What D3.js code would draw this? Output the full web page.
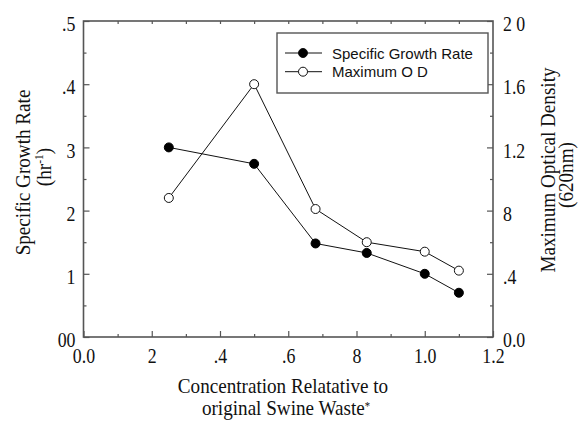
<!DOCTYPE html>
<html><head><meta charset="utf-8">
<script src="https://cdn.jsdelivr.net/npm/d3@7"></script>
<style>body{margin:0;background:#fff}svg{display:block}.serif{font-family:'Liberation Serif','Times New Roman',serif}</style>
</head><body>
<script>
const concentration = [0.25, 0.5, 0.68, 0.83, 1.0, 1.1];
const growthRate    = [0.300, 0.274, 0.148, 0.133, 0.100, 0.070];
const maxOD         = [0.88, 1.60, 0.81, 0.60, 0.54, 0.42];
const xTickValues = [0, 0.2, 0.4, 0.6, 0.8, 1.0, 1.2];
const xTickLabels = ["0.0", "2", ".4", ".6", "8", "1.0", "1.2"];
const yLTickValues = [0, 0.1, 0.2, 0.3, 0.4, 0.5];
const yLTickLabels = ["00", "1", "2", "3", ".4", ".5"];
const yRTickValues = [0, 0.4, 0.8, 1.2, 1.6, 2.0];
const yRTickLabels = ["0.0", ".4", "8", "1.2", "1.6", "2 0"];
const legendLabels = ["Specific Growth Rate", "Maximum O D"];

const W = 586, H = 421;
const L = 83.5, R = 493, T = 21, B = 337;
const SX = 0.85;
const svg = d3.select("body").append("svg").attr("width", W).attr("height", H);
const x = d3.scaleLinear().domain([0, 1.2]).range([L, R]);
const yL = d3.scaleLinear().domain([0, 0.5]).range([B, T]);
const yR = d3.scaleLinear().domain([0, 2.0]).range([B, T]);
const axisColor = "#555";
const serif = "'Liberation Serif','Times New Roman',serif";

function styleAxis(dyShift){
  return g => {
    g.attr("font-family", null).attr("font-size", null).attr("class", "serif");
    g.select(".domain").remove();
    g.selectAll("line").attr("stroke", axisColor).attr("stroke-width", 1.2);
    g.selectAll("text").each(function(){
      const t = d3.select(this);
      const tx = +t.attr("x") || 0, ty = +t.attr("y") || 0;
      t.attr("x", 0).attr("y", 0)
       .attr("transform", `translate(${tx},${ty + (dyShift || 0)}) scale(${SX},1)`)
       .style("font-family", serif).style("font-size", "21px").attr("fill", "#111");
    });
  };
}
const fmt = (vals, labs) => d => { const i = vals.findIndex(v => Math.abs(v - d) < 1e-9); return i >= 0 ? labs[i] : ""; };

// minor + major ticks on all four sides (pointing inward)
svg.append("g").attr("transform", `translate(0,${B})`)
  .call(d3.axisBottom(x).tickValues(d3.range(0.1, 1.2, 0.2)).tickSize(-3).tickFormat(""))
  .call(styleAxis());
svg.append("g").attr("transform", `translate(0,${B})`)
  .call(d3.axisBottom(x).tickValues(xTickValues).tickSize(-6).tickPadding(11).tickFormat(fmt(xTickValues, xTickLabels)))
  .call(styleAxis());
svg.append("g").attr("transform", `translate(0,${T})`)
  .call(d3.axisTop(x).tickValues(d3.range(0.1, 1.2, 0.1)).tickSize(-3).tickFormat(""))
  .call(styleAxis());
svg.append("g").attr("transform", `translate(${L},0)`)
  .call(d3.axisLeft(yL).tickValues(d3.range(0.05, 0.5, 0.1)).tickSize(-3).tickFormat(""))
  .call(styleAxis());
svg.append("g").attr("transform", `translate(${L},0)`)
  .call(d3.axisLeft(yL).tickValues(yLTickValues).tickSize(-6).tickPadding(8).tickFormat(fmt(yLTickValues, yLTickLabels)))
  .call(styleAxis(3));
svg.append("g").attr("transform", `translate(${R},0)`)
  .call(d3.axisRight(yR).tickValues(d3.range(0.2, 2.0, 0.4)).tickSize(-3).tickFormat(""))
  .call(styleAxis());
svg.append("g").attr("transform", `translate(${R},0)`)
  .call(d3.axisRight(yR).tickValues(yRTickValues).tickSize(-6).tickPadding(10).tickFormat(fmt(yRTickValues, yRTickLabels)))
  .call(styleAxis(3));

// frame
svg.append("rect").attr("x", L).attr("y", T).attr("width", R - L).attr("height", B - T)
  .attr("fill", "none").attr("stroke", axisColor).attr("stroke-width", 1.6);

// series
const pts1 = concentration.map((c, i) => [x(c), yL(growthRate[i])]);
const pts2 = concentration.map((c, i) => [x(c), yR(maxOD[i])]);
const line = d3.line();
svg.append("path").attr("d", line(pts2)).attr("fill", "none").attr("stroke", "#111").attr("stroke-width", 1);
svg.append("path").attr("d", line(pts1)).attr("fill", "none").attr("stroke", "#111").attr("stroke-width", 1);
svg.selectAll("circle.od").data(pts2).enter().append("circle").attr("class", "od")
  .attr("cx", d => d[0]).attr("cy", d => d[1]).attr("r", 4.5)
  .attr("fill", "#fff").attr("stroke", "#111").attr("stroke-width", 1);
svg.selectAll("circle.gr").data(pts1).enter().append("circle").attr("class", "gr")
  .attr("cx", d => d[0]).attr("cy", d => d[1]).attr("r", 4.5)
  .attr("fill", "#000").attr("stroke", "#000").attr("stroke-width", 1);

// legend
const lg = svg.append("g");
lg.append("rect").attr("x", 277).attr("y", 33).attr("width", 211).attr("height", 60)
  .attr("fill", "#fff").attr("stroke", axisColor).attr("stroke-width", 1.4);
legendLabels.forEach((lab, i) => {
  const yy = 53 + i * 18.7;
  lg.append("line").attr("x1", 285).attr("x2", 322).attr("y1", yy).attr("y2", yy).attr("stroke", "#111").attr("stroke-width", 1);
  lg.append("circle").attr("cx", 303).attr("cy", yy).attr("r", 4.5)
    .attr("fill", i === 0 ? "#000" : "#fff").attr("stroke", "#111").attr("stroke-width", 1);
  lg.append("text").attr("x", 332).attr("y", yy + 5.5).text(lab)
    .attr("font-family", "'Liberation Sans',Arial,sans-serif").attr("font-size", 15).attr("fill", "#111");
});

// axis titles (condensed serif)
const tt = svg.append("g").attr("font-family", serif).attr("font-size", 21.5).attr("fill", "#111").attr("text-anchor", "middle");
tt.append("text").attr("transform", `translate(283,393) scale(0.89,1)`).text("Concentration Relatative to");
const t2 = tt.append("text").attr("transform", `translate(286,415) scale(0.89,1)`);
t2.append("tspan").text("original Swine Waste");
t2.append("tspan").attr("dy", -5).attr("font-size", 12).text("*");

tt.append("text").attr("transform", `translate(30,172.5) rotate(-90) scale(0.89,1)`).text("Specific Growth Rate");
const h = tt.append("text").attr("transform", `translate(51,167) rotate(-90) scale(0.89,1)`);
h.append("tspan").text("(hr");
h.append("tspan").attr("dy", -8).attr("font-size", 13).text("-1");
h.append("tspan").attr("dy", 8).text(")");

tt.append("text").attr("transform", `translate(555,170) rotate(-90) scale(0.89,1)`).text("Maximum Optical Density");
tt.append("text").attr("transform", `translate(573,175) rotate(-90) scale(0.89,1)`).text("(620nm)");
</script>
</body></html>
